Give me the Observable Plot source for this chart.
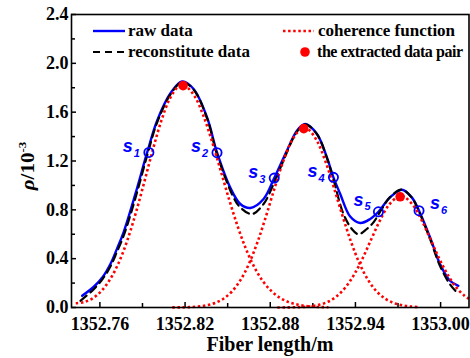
<!DOCTYPE html>
<html>
<head>
<meta charset="utf-8">
<script src="https://cdn.jsdelivr.net/npm/d3@7"></script>
<script src="https://cdn.jsdelivr.net/npm/@observablehq/plot@0.6"></script>
<style>
  html, body { margin: 0; padding: 0; background: #fff; }
  #chart { width: 470px; height: 358px; overflow: hidden; }
</style>
</head>
<body>
<div id="chart"></div>
<script>
// ---- data ----
const rawX = [1352.7475,1352.7557,1352.7620,1352.7674,1352.7720,1352.7768,1352.7850,1352.7933,1352.8003,1352.8097,1352.8179,1352.8260,1352.8355,1352.8425,1352.8519,1352.8589,1352.8660,1352.8753,1352.8828,1352.8917,1352.8988,1352.9046,1352.9129,1352.9199,1352.9245,1352.9293,1352.9363,1352.9433,1352.9504,1352.9562,1352.9644,1352.9727,1352.9797,1352.9848,1352.9926,1352.9996,1353.0066,1353.0125];
const rawY = [0.096,0.17,0.25,0.356,0.48,0.62,0.93,1.27,1.53,1.755,1.852,1.79,1.557,1.27,0.98,0.848,0.815,0.889,1.06,1.284,1.448,1.503,1.421,1.23,1.066,0.93,0.745,0.692,0.725,0.784,0.902,0.965,0.902,0.793,0.574,0.356,0.219,0.178];

const recX = [1352.7463,1352.7557,1352.7620,1352.7674,1352.7720,1352.7768,1352.7850,1352.7933,1352.8003,1352.8097,1352.8179,1352.8260,1352.8355,1352.8425,1352.8542,1352.8589,1352.8671,1352.8753,1352.8823,1352.8917,1352.8988,1352.9046,1352.9129,1352.9199,1352.9245,1352.9316,1352.9375,1352.9421,1352.9480,1352.9527,1352.9586,1352.9644,1352.9727,1352.9797,1352.9848,1352.9926,1352.9996,1353.0066,1353.0125];
const recY = [0.055,0.15,0.235,0.335,0.455,0.59,0.895,1.245,1.515,1.745,1.845,1.785,1.55,1.255,0.9,0.82,0.765,0.848,1.01,1.27,1.44,1.50,1.42,1.225,1.05,0.765,0.643,0.60,0.643,0.697,0.807,0.905,0.965,0.90,0.785,0.56,0.34,0.19,0.11];

const coh1X = [1352.743,1352.749,1352.755,1352.761,1352.767,1352.773,1352.779,1352.785,1352.791,1352.797,1352.803,1352.809,1352.815,1352.818,1352.821,1352.827,1352.833,1352.839,1352.845,1352.851,1352.857,1352.863,1352.869,1352.875,1352.881,1352.887,1352.893,1352.899,1352.905,1352.911,1352.917,1352.921];
const coh1Y = [0.035,0.045,0.076,0.135,0.227,0.360,0.539,0.762,1.016,1.279,1.52,1.705,1.807,1.82,1.809,1.725,1.568,1.36,1.124,0.886,0.666,0.477,0.326,0.212,0.132,0.078,0.044,0.024,0.012,0.006,0.003,0.002];

const coh2X = [1352.811,1352.817,1352.823,1352.829,1352.835,1352.841,1352.847,1352.853,1352.859,1352.865,1352.871,1352.877,1352.883,1352.889,1352.895,1352.901,1352.904,1352.907,1352.913,1352.919,1352.925,1352.931,1352.937,1352.943,1352.949,1352.955,1352.961,1352.967,1352.973,1352.979,1352.985];
const coh2Y = [0.001,0.001,0.003,0.008,0.018,0.037,0.072,0.131,0.224,0.358,0.535,0.747,0.976,1.193,1.363,1.458,1.47,1.458,1.363,1.193,0.976,0.747,0.535,0.358,0.224,0.131,0.072,0.037,0.018,0.008,0.003];

const coh3X = [1352.885,1352.891,1352.897,1352.903,1352.909,1352.915,1352.921,1352.927,1352.933,1352.939,1352.945,1352.951,1352.957,1352.963,1352.969,1352.972,1352.975,1352.981,1352.987,1352.993,1352.999,1353.005,1353.011,1353.017,1353.020];
const coh3Y = [0.000,0.001,0.002,0.004,0.011,0.024,0.049,0.094,0.165,0.268,0.401,0.555,0.707,0.831,0.901,0.91,0.901,0.831,0.707,0.555,0.401,0.268,0.165,0.094,0.072];

const pairX = [1352.8186, 1352.9036, 1352.9715];
const pairY = [1.817, 1.465, 0.907];

const sNames = ["1","2","3","4","5","6"];
const sX = [1352.7945, 1352.8425, 1352.8828, 1352.9245, 1352.9562, 1352.9848];
const sY = [1.27, 1.268, 1.06, 1.066, 0.784, 0.793];

const xTicks = [1352.76, 1352.82, 1352.88, 1352.94, 1353.00];
const xMinor = [1352.79, 1352.85, 1352.91, 1352.97];
const yTicks = [0, 0.4, 0.8, 1.2, 1.6, 2.0, 2.4];
const yMinor = [0.2, 0.6, 1.0, 1.4, 1.8, 2.2];

const legendLabels = ["raw data", "reconstitute data", "coherence function", "the extracted data pair"];
const yLabelParts = ["\u03C1", "/10", "-3"];
const xLabel = "Fiber length/m";

// ---- build tables ----
const zip = (xs, ys) => xs.map((x, i) => ({x, y: ys[i]}));
const raw = zip(rawX, rawY);
const rec = zip(recX, recY);
const coh = [zip(coh1X, coh1Y), zip(coh2X, coh2Y), zip(coh3X, coh3Y)];
const pairs = zip(pairX, pairY);
const sData = sNames.map((n, i) => ({n, x: sX[i], y: sY[i]}));

const BLUE = "#0000ff";
const RED = "#ff0000";
const DOTS = "2.5,2.6";
const redDots = {stroke: RED, strokeWidth: 2.6, strokeDasharray: DOTS, strokeLinecap: "butt", curve: "catmull-rom"};
const sFont = {fontFamily: "'Liberation Sans', Arial, sans-serif", fontStyle: "italic", fontWeight: "bold", fill: BLUE};

const plot = Plot.plot({
  width: 470,
  height: 358,
  marginLeft: 71,
  marginRight: 1.5,
  marginTop: 14,
  marginBottom: 51,
  style: {fontFamily: "'Liberation Serif', 'Times New Roman', serif", fontSize: "18px", fontWeight: "bold", background: "#fff", color: "#000"},
  x: {domain: [1352.74, 1353.02]},
  y: {domain: [0, 2.4]},
  marks: [
    Plot.axisX(xTicks, {tickSize: 0, tickPadding: 10, tickFormat: d3.format(".2f"), label: null}),
    Plot.axisX(xTicks, {tickSize: -5, fill: "none", strokeWidth: 1.5, label: null}),
    Plot.axisX(xMinor, {tickSize: -4, fill: "none", strokeWidth: 1.5, label: null}),
    Plot.axisY(yTicks, {tickSize: 0, tickPadding: 3, tickFormat: d3.format(".1f"), label: null}),
    Plot.axisY(yTicks, {tickSize: -5, fill: "none", strokeWidth: 1.5, label: null}),
    Plot.axisY(yMinor, {tickSize: -4, fill: "none", strokeWidth: 1.5, label: null}),
    Plot.line(raw, {x: "x", y: "y", stroke: BLUE, strokeWidth: 2.4, curve: "catmull-rom"}),
    Plot.line(rec, {x: "x", y: "y", stroke: "#000", strokeWidth: 2.2, strokeDasharray: "8,5", curve: "catmull-rom"}),
    Plot.line(coh[0], {x: "x", y: "y", ...redDots}),
    Plot.line(coh[1], {x: "x", y: "y", ...redDots}),
    Plot.line(coh[2], {x: "x", y: "y", ...redDots}),
    Plot.dot(pairs, {x: "x", y: "y", r: 4.8, fill: RED, stroke: "none"}),
    Plot.dot(sData, {x: "x", y: "y", r: 4.6, stroke: BLUE, strokeWidth: 1.8, fill: "none"}),
    // labels s_i
    Plot.text(sData.filter((d, i) => i < 4), {x: "x", y: "y", text: () => "s", dx: -26, dy: -6, textAnchor: "start", fontSize: 18, ...sFont}),
    Plot.text(sData.filter((d, i) => i < 4), {x: "x", y: "y", text: "n", dx: -15, dy: 1, textAnchor: "start", fontSize: 11, ...sFont}),
    Plot.text(sData.filter((d, i) => i === 4), {x: "x", y: "y", text: () => "s", dx: -25, dy: -12, textAnchor: "start", fontSize: 18, ...sFont}),
    Plot.text(sData.filter((d, i) => i === 4), {x: "x", y: "y", text: "n", dx: -14, dy: -5, textAnchor: "start", fontSize: 11, ...sFont}),
    Plot.text(sData.filter((d, i) => i === 5), {x: "x", y: "y", text: () => "s", dx: 11, dy: -7, textAnchor: "start", fontSize: 18, ...sFont}),
    Plot.text(sData.filter((d, i) => i === 5), {x: "x", y: "y", text: "n", dx: 22, dy: 0, textAnchor: "start", fontSize: 11, ...sFont}),
    Plot.frame({stroke: "#000", strokeWidth: 1.6})
  ]
});

const svg = d3.select(plot);
const serif = "'Liberation Serif', 'Times New Roman', serif";

// legend (inside plot area, top)
const lg = svg.append("g").attr("font-family", serif).attr("font-weight", "bold").attr("font-size", 17).attr("fill", "#000").attr("text-anchor", "start");
lg.append("line").attr("x1", 93).attr("x2", 125).attr("y1", 31).attr("y2", 31).attr("stroke", BLUE).attr("stroke-width", 2.4);
lg.append("text").attr("x", 128).attr("y", 36).attr("text-anchor", "start").text(legendLabels[0]);
lg.append("line").attr("x1", 93).attr("x2", 126).attr("y1", 52).attr("y2", 52).attr("stroke", "#000").attr("stroke-width", 2.2).attr("stroke-dasharray", "7,5");
lg.append("text").attr("x", 128).attr("y", 57).attr("text-anchor", "start").text(legendLabels[1]);
lg.append("line").attr("x1", 283).attr("x2", 314).attr("y1", 31).attr("y2", 31).attr("stroke", RED).attr("stroke-width", 2.6).attr("stroke-dasharray", DOTS);
lg.append("text").attr("x", 318).attr("y", 36).attr("text-anchor", "start").text(legendLabels[2]);
lg.append("circle").attr("cx", 305).attr("cy", 52).attr("r", 4.8).attr("fill", RED);
lg.append("text").attr("x", 317).attr("y", 57).attr("text-anchor", "start")
  .attr("font-size", 16).attr("letter-spacing", "-0.45px").text(legendLabels[3]);

// y axis label with superscript
const yl = svg.append("text")
  .attr("transform", "translate(34,166) rotate(-90) scale(1,0.85)")
  .attr("text-anchor", "middle")
  .attr("font-family", serif).attr("font-weight", "bold").attr("font-size", 21).attr("fill", "#000");
yl.append("tspan").attr("font-style", "italic").text(yLabelParts[0]);
yl.append("tspan").text(yLabelParts[1]);
yl.append("tspan").attr("dy", -9).attr("font-size", 13).text(yLabelParts[2]);

// x axis label
svg.append("text").attr("x", 270).attr("y", 351).attr("text-anchor", "middle")
  .attr("font-family", serif).attr("font-weight", "bold").attr("font-size", 20).attr("fill", "#000")
  .text(xLabel);

document.getElementById("chart").appendChild(plot);
</script>
</body>
</html>
